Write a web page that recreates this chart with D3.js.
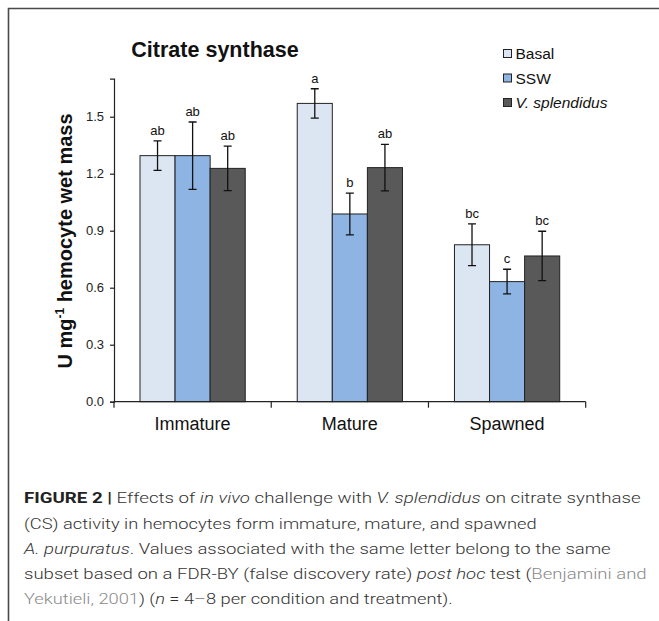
<!DOCTYPE html>
<html>
<head>
<meta charset="utf-8">
<script src="https://cdn.jsdelivr.net/npm/d3@7"></script>
<style>
  html, body { margin: 0; padding: 0; background: #fff; }
  svg { display: block; font-family: Arial, "Liberation Sans", sans-serif; }
</style>
</head>
<body>
<div id="chart"></div>
<script>
(function() {
  'use strict';

  // chart values
  var categories = ['Immature', 'Mature', 'Spawned'];
  var series = ['Basal', 'SSW', 'V. splendidus'];
  var basal = [1.295, 1.57, 0.826];
  var ssw = [1.295, 0.988, 0.632];
  var vspl = [1.228, 1.232, 0.767];
  var basalErr = [0.078, 0.077, 0.11];
  var sswErr = [0.177, 0.11, 0.065];
  var vsplErr = [0.117, 0.122, 0.13];
  var basalLetters = ['ab', 'a', 'bc'];
  var sswLetters = ['ab', 'b', 'c'];
  var vsplLetters = ['ab', 'ab', 'bc'];
  var yTicks = [0, 0.3, 0.6, 0.9, 1.2, 1.5];

  var colors = ['#dce6f2', '#8db4e2', '#595959'];
  var width = 659, height = 621;

  var svg = d3.select('#chart').append('svg').attr('width', width).attr('height', height);

  // frame
  svg.append('path').attr('d', 'M8.5,621V8.5H659')
    .attr('fill', 'none').attr('stroke', '#4a4a4a').attr('stroke-width', 1.6);

  var x = d3.scaleBand().domain(categories).range([114, 585.7]);
  var xs = d3.scaleBand().domain(series).range([26, x.bandwidth() - 26]);
  var y = d3.scaleLinear().domain([0, 1.7]).range([401.7, 78.7]);

  var rows = [];
  categories.forEach(function(c, i) {
    rows.push({ cat: c, s: series[0], v: basal[i], e: basalErr[i], l: basalLetters[i], k: 0 });
    rows.push({ cat: c, s: series[1], v: ssw[i], e: sswErr[i], l: sswLetters[i], k: 1 });
    rows.push({ cat: c, s: series[2], v: vspl[i], e: vsplErr[i], l: vsplLetters[i], k: 2 });
  });

  var g = svg.append('g');

  // bars
  g.selectAll('.bar').data(rows).enter().append('rect')
    .attr('class', 'bar')
    .attr('x', function(d) { return x(d.cat) + xs(d.s); })
    .attr('y', function(d) { return y(d.v); })
    .attr('width', xs.bandwidth())
    .attr('height', function(d) { return y(0) - y(d.v); })
    .attr('fill', function(d) { return colors[d.k]; })
    .attr('stroke', '#222').attr('stroke-width', 1);

  // error bars
  var err = g.selectAll('.err').data(rows).enter().append('g').attr('class', 'err')
    .attr('transform', function(d) { return 'translate(' + (x(d.cat) + xs(d.s) + xs.bandwidth() / 2) + ',0)'; });
  err.append('path')
    .attr('d', function(d) {
      var t = y(d.v + d.e), b = y(d.v - d.e);
      return 'M-4,' + t + 'H4M0,' + t + 'V' + b + 'M-4,' + b + 'H4';
    })
    .attr('fill', 'none').attr('stroke', '#111').attr('stroke-width', 1.3);
  err.append('text')
    .attr('y', function(d) { return y(d.v + d.e) - 6; })
    .attr('text-anchor', 'middle').attr('font-size', '13px').attr('fill', '#111')
    .text(function(d) { return d.l; });

  // y axis
  var yAxis = d3.axisLeft(y).tickValues(yTicks).tickFormat(d3.format('.1f')).tickSizeOuter(0).tickSize(4).tickPadding(6);
  var ya = svg.append('g').attr('transform', 'translate(114,0)').call(yAxis);
  ya.select('.domain').attr('stroke', '#222').attr('stroke-width', 1.2);
  ya.selectAll('.tick line').attr('stroke', '#222').attr('stroke-width', 1.2);
  ya.selectAll('.tick text').attr('font-size', '13px').attr('fill', '#222')
    .attr('font-family', 'Arial, "Liberation Sans", sans-serif');

  // x axis
  var bounds = categories.map(function(c) { return x(c); }).concat([x.range()[1]]);
  var xa = svg.append('g');
  xa.append('line').attr('x1', x.range()[0]).attr('x2', x.range()[1])
    .attr('y1', y(0)).attr('y2', y(0)).attr('stroke', '#222').attr('stroke-width', 1.2);
  xa.selectAll('.xt').data(bounds).enter().append('line')
    .attr('x1', function(d) { return d; }).attr('x2', function(d) { return d; })
    .attr('y1', y(0)).attr('y2', y(0) + 6).attr('stroke', '#222').attr('stroke-width', 1.2);
  xa.selectAll('.xl').data(categories).enter().append('text')
    .attr('x', function(d) { return x(d) + x.bandwidth() / 2; })
    .attr('y', 430).attr('text-anchor', 'middle').attr('font-size', '18px').attr('fill', '#111')
    .text(function(d) { return d; });

  // title
  svg.append('text').attr('x', 215).attr('y', 57).attr('text-anchor', 'middle')
    .attr('font-size', '21.5px').attr('font-weight', 'bold').attr('fill', '#111')
    .text('Citrate synthase');

  // y label
  var yl = svg.append('text').attr('transform', 'translate(72,241) rotate(-90)')
    .attr('text-anchor', 'middle').attr('font-size', '20px').attr('font-weight', 'bold').attr('fill', '#111');
  yl.append('tspan').text('U mg');
  yl.append('tspan').attr('font-size', '12px').attr('dy', -8).text('-1');
  yl.append('tspan').attr('dy', 8).text(' hemocyte wet mass');

  // legend
  var leg = svg.append('g').attr('transform', 'translate(503.5,0)');
  var li = leg.selectAll('.li').data(series).enter().append('g')
    .attr('transform', function(d, i) { return 'translate(0,' + (53.5 + i * 24.5) + ')'; });
  li.append('rect').attr('x', 0).attr('y', -4).attr('width', 8).attr('height', 8)
    .attr('fill', function(d, i) { return colors[i]; }).attr('stroke', '#222').attr('stroke-width', 1);
  li.append('text').attr('x', 12).attr('y', 5.5).attr('font-size', '15.5px').attr('fill', '#111')
    .attr('font-style', function(d, i) { return i === 2 ? 'italic' : 'normal'; })
    .text(function(d) { return d; });

  // caption
  var capLines = [
    { end: 640.7, parts: [['FIGURE 2 |', 'b', '#222'], [' Effects of ', '', '#333'], ['in vivo', 'i', '#333'], [' challenge with ', '', '#333'], ['V. splendidus', 'i', '#333'], [' on citrate synthase', '', '#333']] },
    { end: 536.7, parts: [['(CS) activity in hemocytes form immature, mature, and spawned', '', '#333']] },
    { end: 610.7, parts: [['A. purpuratus', 'i', '#333'], ['. Values associated with the same letter belong to the same', '', '#333']] },
    { end: 646.7, parts: [['subset based on a FDR-BY (false discovery rate) ', '', '#333'], ['post hoc', 'i', '#333'], [' test (', '', '#333'], ['Benjamini and', '', '#8a8a8a']] },
    { end: 452.7, parts: [['Yekutieli, 2001', '', '#8a8a8a'], [') (', '', '#333'], ['n', 'i', '#333'], [' = 4\u20138 per condition and treatment).', '', '#333']] }
  ];
  var capX = 24;
  capLines.forEach(function(line, i) {
    var t = svg.append('text').attr('x', capX).attr('y', 503.3 + i * 25.2)
      .attr('font-size', '15.5px').attr('font-family', 'Roboto, "Liberation Sans", Arial, sans-serif')
      .attr('font-weight', 300)
      .attr('textLength', line.end - capX).attr('lengthAdjust', 'spacingAndGlyphs');
    line.parts.forEach(function(p) {
      t.append('tspan').attr('fill', p[2])
        .attr('font-weight', p[1] === 'b' ? 'bold' : 300)
        .attr('font-style', p[1] === 'i' ? 'italic' : 'normal')
        .text(p[0]);
    });
  });
})();
</script>
</body>
</html>
